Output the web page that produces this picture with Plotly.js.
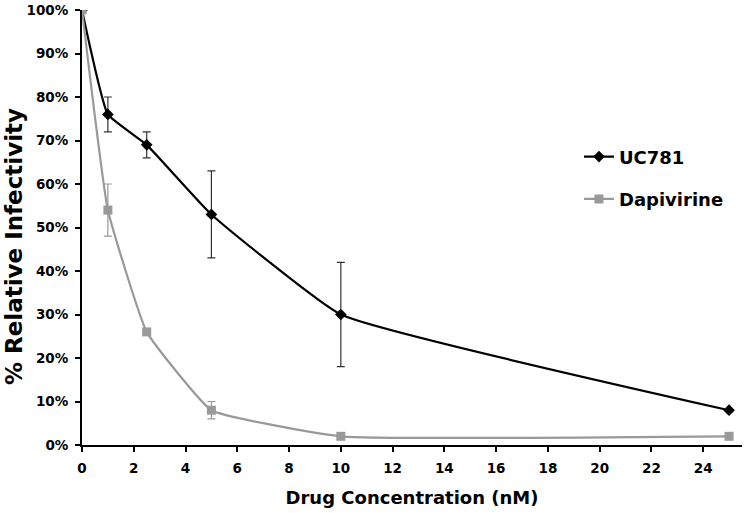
<!DOCTYPE html>
<html><head><meta charset="utf-8">
<script src="https://cdn.plot.ly/plotly-3.0.1.min.js"></script>
<style>html,body{margin:0;padding:0;background:#fff}#chart{width:748px;height:513px}</style>
</head><body><div id="chart"></div>
<script>
var concentrations = [0, 1, 2.5, 5, 10, 25];
var uc781 = [100, 76, 69, 53, 30, 8];
var uc781Err = [0, 4, 3, 10, 12, 0];
var dapivirine = [100, 54, 26, 8, 2, 2];
var dapivirineErr = [0, 6, 0, 2, 0, 0];
var xTicks = [0, 2, 4, 6, 8, 10, 12, 14, 16, 18, 20, 22, 24];
var yTicks = [0, 10, 20, 30, 40, 50, 60, 70, 80, 90, 100];

var fontFam = "DejaVu Sans, Verdana, sans-serif";
var traces = [
  {x: concentrations, y: uc781, name: 'UC781', legendgroup: 'a', type: 'scatter', mode: 'lines+markers',
   line: {color: '#000', width: 2.2, shape: 'spline', smoothing: 0.35},
   marker: {symbol: 'diamond', size: 9, color: '#000'},
   error_y: {type: 'data', array: uc781Err, visible: true, color: '#333', thickness: 1.2, width: 4}},
  {x: concentrations, y: dapivirine, name: 'Dapivirine', legendgroup: 'b', type: 'scatter', mode: 'lines+markers',
   line: {color: '#999', width: 2.2, shape: 'spline', smoothing: 0.35},
   marker: {symbol: 'square', size: 9, color: '#999'},
   error_y: {type: 'data', array: dapivirineErr, visible: true, color: '#999', thickness: 1.2, width: 4}}
];
var layout = {
  width: 748, height: 513,
  margin: {l: 82, r: 6, t: 10, b: 68},
  paper_bgcolor: '#fff', plot_bgcolor: '#fff',
  font: {family: fontFam, color: '#000'},
  showlegend: true,
  legend: {x: 0.753, y: 0.705, xanchor: 'left', yanchor: 'top', font: {size: 18, family: fontFam, weight: 'bold'},
           bgcolor: 'rgba(0,0,0,0)', tracegroupgap: 16},
  xaxis: {range: [0, 25.5], tickvals: xTicks, ticktext: xTicks.map(String), showgrid: false, zeroline: false,
          showline: true, linecolor: '#000', linewidth: 2, ticks: 'outside', ticklen: 5, tickwidth: 2, tickcolor: '#000',
          tickfont: {size: 13.5, weight: 'bold'}, ticklabelstandoff: 5,
          title: {text: 'Drug Concentration (nM)', font: {size: 18, weight: 'bold'}, standoff: 16}},
  yaxis: {range: [0, 100], tickvals: yTicks, ticktext: yTicks.map(function(v){return v + '%';}), showgrid: false, zeroline: false,
          showline: true, linecolor: '#000', linewidth: 2, ticks: 'outside', ticklen: 5, tickwidth: 2, tickcolor: '#000',
          tickfont: {size: 13.5, weight: 'bold'}, ticklabelstandoff: 4},
  annotations: [{text: '% Relative Infectivity', xref: 'paper', yref: 'paper', x: -0.103, y: 0.455,
                 xanchor: 'center', yanchor: 'middle', textangle: -90, showarrow: false,
                 font: {size: 23, weight: 'bold', family: fontFam, color: '#000'}}]
};
Plotly.newPlot('chart', traces, layout, {displayModeBar: false, staticPlot: true});
</script></body></html>
